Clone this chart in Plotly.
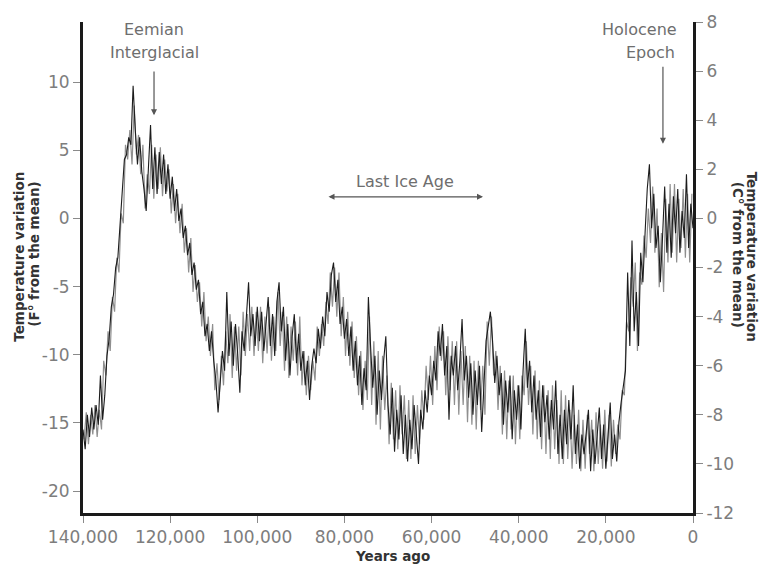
import plotly.graph_objects as go

# Years ago (thousands) and temperature variation (°C from the mean) - dark core of the record
AGES_KYR = [
    140.0, 139.5, 139.0, 138.5, 138.0, 137.5, 137.0, 136.5, 136.0, 135.5,
    135.0, 134.5, 134.0, 133.5, 133.0, 132.5, 132.0, 131.5, 131.0, 130.5,
    130.0, 129.5, 129.0, 128.5, 128.0, 127.5, 127.0, 126.5, 126.0, 125.5,
    125.0, 124.5, 124.0, 123.5, 123.0, 122.5, 122.0, 121.5, 121.0, 120.5,
    120.0, 119.5, 119.0, 118.5, 118.0, 117.5, 117.0, 116.5, 116.0, 115.5,
    115.0, 114.5, 114.0, 113.5, 113.0, 112.5, 112.0, 111.5, 111.0, 110.5,
    110.0, 109.5, 109.0, 108.5, 108.0, 107.5, 107.0, 106.5, 106.0, 105.5,
    105.0, 104.5, 104.0, 103.5, 103.0, 102.5, 102.0, 101.5, 101.0, 100.5,
    100.0, 99.5, 99.0, 98.5, 98.0, 97.5, 97.0, 96.5, 96.0, 95.5,
    95.0, 94.5, 94.0, 93.5, 93.0, 92.5, 92.0, 91.5, 91.0, 90.5,
    90.0, 89.5, 89.0, 88.5, 88.0, 87.5, 87.0, 86.5, 86.0, 85.5,
    85.0, 84.5, 84.0, 83.5, 83.0, 82.5, 82.0, 81.5, 81.0, 80.5,
    80.0, 79.5, 79.0, 78.5, 78.0, 77.5, 77.0, 76.5, 76.0, 75.5,
    75.0, 74.5, 74.0, 73.5, 73.0, 72.5, 72.0, 71.5, 71.0, 70.5,
    70.0, 69.5, 69.0, 68.5, 68.0, 67.5, 67.0, 66.5, 66.0, 65.5,
    65.0, 64.5, 64.0, 63.5, 63.0, 62.5, 62.0, 61.5, 61.0, 60.5,
    60.0, 59.5, 59.0, 58.5, 58.0, 57.5, 57.0, 56.5, 56.0, 55.5,
    55.0, 54.5, 54.0, 53.5, 53.0, 52.5, 52.0, 51.5, 51.0, 50.5,
    50.0, 49.5, 49.0, 48.5, 48.0, 47.5, 47.0, 46.5, 46.0, 45.5,
    45.0, 44.5, 44.0, 43.5, 43.0, 42.5, 42.0, 41.5, 41.0, 40.5,
    40.0, 39.5, 39.0, 38.5, 38.0, 37.5, 37.0, 36.5, 36.0, 35.5,
    35.0, 34.5, 34.0, 33.5, 33.0, 32.5, 32.0, 31.5, 31.0, 30.5,
    30.0, 29.5, 29.0, 28.5, 28.0, 27.5, 27.0, 26.5, 26.0, 25.5,
    25.0, 24.5, 24.0, 23.5, 23.0, 22.5, 22.0, 21.5, 21.0, 20.5,
    20.0, 19.5, 19.0, 18.5, 18.0, 17.5, 17.0, 16.5, 16.0, 15.5,
    15.0, 14.5, 14.0, 13.5, 13.0, 12.5, 12.0, 11.5, 11.0, 10.5,
    10.0, 9.5, 9.0, 8.5, 8.0, 7.5, 7.0, 6.5, 6.0, 5.5,
    5.0, 4.5, 4.0, 3.5, 3.0, 2.5, 2.0, 1.5, 1.0, 0.5,
    0.0,
]

TEMP_C = [
    -8.6, -9.4, -8.0, -8.9, -7.7, -8.6, -7.6, -8.4, -6.4, -8.2,
    -7.2, -5.6, -4.9, -3.6, -3.1, -2.0, -1.6, -0.3, 0.8, 2.4,
    2.6, 3.3, 3.0, 5.4, 3.6, 2.2, 3.3, 1.9, 1.2, 0.3,
    2.0, 3.8, 1.2, 2.9, 1.0, 2.7, 1.4, 2.6, 1.0, 2.2,
    0.8, 1.7, 0.3, 1.2, -0.1, 0.4, -0.8, -0.3, -1.5, -1.0,
    -2.3, -1.8, -2.9, -2.5, -3.9, -3.4, -4.8, -4.3, -5.4, -4.6,
    -5.8, -6.6, -7.9, -6.5, -5.4, -6.2, -3.0, -5.6, -4.2, -6.0,
    -4.3, -5.5, -7.1, -4.6, -5.4, -4.0, -2.6, -4.8, -3.9, -5.2,
    -3.6, -5.0, -3.8, -5.4, -4.2, -3.2, -5.2, -3.9, -5.6, -3.4,
    -2.6, -4.6, -3.6, -5.8, -4.3, -6.4, -4.8, -3.9, -5.9, -4.7,
    -6.2, -5.4, -6.8, -5.8, -7.4, -6.0, -5.3, -5.9, -4.5, -5.3,
    -4.0, -4.8, -3.0, -3.8, -2.3, -1.8, -3.4, -2.5, -4.3, -3.6,
    -4.9, -4.1, -5.6, -4.4, -6.2, -5.0, -6.8, -5.6, -7.6, -6.1,
    -7.0, -3.2, -5.2, -6.9, -5.6, -8.0, -6.2, -7.4, -5.8, -4.8,
    -7.6, -8.8, -6.9, -9.5, -7.8, -9.0, -7.2, -9.6, -8.0, -9.9,
    -8.2, -9.4, -7.6, -8.9, -10.0, -7.8, -8.6, -7.0, -7.9, -6.4,
    -7.2, -5.8, -6.6, -4.6, -5.6, -4.3, -6.4, -5.2, -8.2, -5.6,
    -6.4, -5.2, -7.0, -5.8, -4.1, -6.6, -5.6, -7.3, -5.9, -8.0,
    -6.2, -7.6, -6.0, -8.7, -6.8, -5.0, -4.4, -3.8, -5.0, -6.7,
    -5.6, -7.2, -6.3, -8.4, -6.6, -7.9, -6.4, -9.0, -7.0, -8.2,
    -6.8, -8.6, -6.2, -4.5, -6.9, -5.8, -7.9, -6.4, -8.2, -7.0,
    -8.9, -6.8, -8.3, -7.2, -9.0, -7.4, -8.6, -6.6, -9.6, -8.0,
    -9.8, -7.8, -9.2, -7.4, -9.0, -6.8, -9.6, -8.4, -10.2, -8.8,
    -9.6, -8.6, -7.8, -10.3, -8.6, -10.0, -8.8, -7.7, -9.8, -8.4,
    -10.2, -8.6, -7.5, -9.8, -8.8, -9.9, -8.3, -7.5, -6.8, -6.2,
    -2.2, -5.2, -0.9, -4.6, -3.0, -5.2, -1.4, -2.6, -0.6, 1.2,
    2.2, -0.4, 1.0, -1.2, -0.3, -2.6, -0.8, 1.3, -1.4, 0.6,
    -1.6, 0.9, -0.6, 1.2, -1.4, 0.3, -0.8, 1.8, -1.2, 0.6,
    -0.4,
]

# Lighter grey strokes of the record, read between the dark-core samples
GREY_AGES_KYR = [
    139.75, 139.25, 138.75, 138.25, 137.75, 137.25, 136.75, 136.25, 135.75, 135.25,
    134.75, 134.25, 133.75, 133.25, 132.75, 132.25, 131.75, 131.25, 130.75, 130.25,
    129.75, 129.25, 128.75, 128.25, 127.75, 127.25, 126.75, 126.25, 125.75, 125.25,
    124.75, 124.25, 123.75, 123.25, 122.75, 122.25, 121.75, 121.25, 120.75, 120.25,
    119.75, 119.25, 118.75, 118.25, 117.75, 117.25, 116.75, 116.25, 115.75, 115.25,
    114.75, 114.25, 113.75, 113.25, 112.75, 112.25, 111.75, 111.25, 110.75, 110.25,
    109.75, 109.25, 108.75, 108.25, 107.75, 107.25, 106.75, 106.25, 105.75, 105.25,
    104.75, 104.25, 103.75, 103.25, 102.75, 102.25, 101.75, 101.25, 100.75, 100.25,
    99.75, 99.25, 98.75, 98.25, 97.75, 97.25, 96.75, 96.25, 95.75, 95.25,
    94.75, 94.25, 93.75, 93.25, 92.75, 92.25, 91.75, 91.25, 90.75, 90.25,
    89.75, 89.25, 88.75, 88.25, 87.75, 87.25, 86.75, 86.25, 85.75, 85.25,
    84.75, 84.25, 83.75, 83.25, 82.75, 82.25, 81.75, 81.25, 80.75, 80.25,
    79.75, 79.25, 78.75, 78.25, 77.75, 77.25, 76.75, 76.25, 75.75, 75.25,
    74.75, 74.25, 73.75, 73.25, 72.75, 72.25, 71.75, 71.25, 70.75, 70.25,
    69.75, 69.25, 68.75, 68.25, 67.75, 67.25, 66.75, 66.25, 65.75, 65.25,
    64.75, 64.25, 63.75, 63.25, 62.75, 62.25, 61.75, 61.25, 60.75, 60.25,
    59.75, 59.25, 58.75, 58.25, 57.75, 57.25, 56.75, 56.25, 55.75, 55.25,
    54.75, 54.25, 53.75, 53.25, 52.75, 52.25, 51.75, 51.25, 50.75, 50.25,
    49.75, 49.25, 48.75, 48.25, 47.75, 47.25, 46.75, 46.25, 45.75, 45.25,
    44.75, 44.25, 43.75, 43.25, 42.75, 42.25, 41.75, 41.25, 40.75, 40.25,
    39.75, 39.25, 38.75, 38.25, 37.75, 37.25, 36.75, 36.25, 35.75, 35.25,
    34.75, 34.25, 33.75, 33.25, 32.75, 32.25, 31.75, 31.25, 30.75, 30.25,
    29.75, 29.25, 28.75, 28.25, 27.75, 27.25, 26.75, 26.25, 25.75, 25.25,
    24.75, 24.25, 23.75, 23.25, 22.75, 22.25, 21.75, 21.25, 20.75, 20.25,
    19.75, 19.25, 18.75, 18.25, 17.75, 17.25, 16.75, 16.25, 15.75, 15.25,
    14.75, 14.25, 13.75, 13.25, 12.75, 12.25, 11.75, 11.25, 10.75, 10.25,
    9.75, 9.25, 8.75, 8.25, 7.75, 7.25, 6.75, 6.25, 5.75, 5.25,
    4.75, 4.25, 3.75, 3.25, 2.75, 2.25, 1.75, 1.25, 0.75, 0.25,
]

GREY_TEMP_C = [
    -9.0, -7.9, -9.2, -8.0, -8.8, -7.6, -8.9, -7.8, -8.6, -5.8,
    -6.4, -4.6, -5.4, -3.2, -3.8, -1.6, -2.2, 0.2, -0.2, 3.0,
    2.4, 3.6, 2.2, 4.6, 2.6, 3.4, 1.8, 3.0, 0.4, 1.8,
    1.0, 3.0, 0.8, 2.6, 1.2, 2.9, 0.9, 2.4, 1.1, 2.0,
    0.2, 1.4, -0.2, 1.0, -0.6, 0.6, -1.4, -0.4, -2.2, -0.8,
    -3.0, -1.9, -3.4, -2.6, -4.4, -3.0, -5.0, -4.0, -5.6, -4.3,
    -7.0, -5.9, -7.4, -5.6, -6.8, -4.6, -5.9, -3.9, -6.5, -4.4,
    -6.2, -4.4, -6.4, -3.8, -5.6, -3.9, -5.4, -3.6, -5.6, -3.8,
    -5.4, -3.6, -5.9, -4.0, -5.5, -3.6, -5.8, -4.0, -5.4, -3.0,
    -5.2, -3.8, -6.2, -4.0, -6.5, -4.4, -5.8, -4.2, -6.4, -4.0,
    -6.8, -5.4, -7.2, -5.6, -7.0, -5.8, -6.6, -4.4, -5.6, -4.3,
    -5.2, -3.4, -4.3, -2.2, -3.6, -2.0, -4.0, -2.2, -4.8, -3.2,
    -5.6, -3.8, -6.0, -4.2, -6.5, -4.8, -7.2, -5.4, -7.8, -5.8,
    -7.4, -4.0, -7.6, -5.0, -8.4, -5.4, -8.6, -5.6, -7.8, -6.4,
    -9.2, -6.7, -9.0, -7.0, -9.4, -6.8, -8.8, -7.2, -9.8, -7.4,
    -9.8, -7.2, -9.6, -7.6, -9.2, -7.0, -8.2, -6.0, -7.4, -5.6,
    -7.6, -5.2, -7.0, -4.4, -5.8, -4.6, -7.2, -4.8, -7.0, -5.0,
    -7.6, -5.0, -8.0, -5.4, -7.6, -5.2, -8.3, -5.6, -8.4, -5.8,
    -8.6, -5.8, -7.8, -6.0, -8.0, -4.2, -6.0, -4.0, -6.4, -5.4,
    -7.8, -6.0, -8.8, -6.2, -9.0, -6.6, -8.6, -6.4, -9.2, -6.8,
    -9.0, -6.4, -7.2, -5.0, -7.6, -6.0, -8.8, -6.2, -9.0, -6.6,
    -9.4, -6.8, -9.6, -7.0, -9.8, -6.8, -9.4, -7.4, -10.0, -7.0,
    -10.0, -7.2, -9.8, -7.8, -10.2, -8.0, -10.0, -7.8, -10.3, -8.2,
    -10.2, -8.0, -9.6, -8.2, -10.3, -7.9, -10.0, -8.4, -10.2, -7.8,
    -9.9, -8.0, -10.1, -8.2, -9.6, -8.4, -9.0, -7.0, -7.2, -4.2,
    -4.6, -2.4, -3.6, -1.8, -5.4, -2.2, -2.7, -0.7, -1.6, 0.4,
    -1.0, 1.3, -1.4, 0.4, -2.8, -0.6, -3.0, 0.8, -1.8, 1.4,
    -1.4, 1.4, -1.8, 0.8, -1.2, 1.2, -1.6, 1.0, -1.8, 1.0,
]

X_TICKS = [140000, 120000, 100000, 80000, 60000, 40000, 20000, 0]
X_TICKTEXT = ["140,000", "120,000", "100,000", "80,000", "60,000", "40,000", "20,000", "0"]
F_TICKS = [-20, -15, -10, -5, 0, 5, 10]
F_TICKTEXT = ["-20", "-15", "-10", "-5", "0", "5", "10"]
C_TICKS = [-12, -10, -8, -6, -4, -2, 0, 2, 4, 6, 8]
C_TICKTEXT = ["-12", "-10", "-8", "-6", "-4", "-2", "0", "2", "4", "6", "8"]

years = [a * 1000 for a in AGES_KYR]
grey_years = [a * 1000 for a in GREY_AGES_KYR]

FONT = "DejaVu Sans"
TICK_COLOR = "#7d7d7d"
TITLE_COLOR = "#333333"
ANN_COLOR = "#6e6e6e"

# plot area in pixels (for placing paper-referenced titles)
L, R, T, B = 83, 693, 13, 513
def px(x):
    return (x - L) / (R - L)
def py(y):
    return (B - y) / (B - T)

fig = go.Figure()
fig.add_trace(go.Scatter(x=[years[0]], y=[0], mode="markers", marker=dict(opacity=0),
                         hoverinfo="skip", showlegend=False, yaxis="y"))
fig.add_trace(go.Scatter(x=grey_years, y=GREY_TEMP_C, mode="lines", yaxis="y2",
                         line=dict(color="#8f8f8f", width=1.2), showlegend=False))
fig.add_trace(go.Scatter(x=years, y=TEMP_C, mode="lines", yaxis="y2",
                         line=dict(color="#1c1c1c", width=1.1), showlegend=False))

axis_common = dict(showgrid=False, zeroline=False, showline=True, linecolor="#1a1a1a",
                   linewidth=3, ticks="outside", ticklen=7, tickwidth=1, tickcolor="#8a8a8a",
                   tickfont=dict(family=FONT, size=17, color=TICK_COLOR))

fig.update_layout(
    width=765, height=569,
    margin=dict(l=L, r=765 - R, t=T, b=569 - B),
    paper_bgcolor="white", plot_bgcolor="white",
    font=dict(family=FONT),
    xaxis=dict(range=[140000, 0], tickvals=X_TICKS, ticktext=X_TICKTEXT, **axis_common),
    yaxis=dict(range=[-21.6, 14.4], tickvals=F_TICKS, ticktext=F_TICKTEXT, **axis_common),
    yaxis2=dict(range=[-12, 8], tickvals=C_TICKS, ticktext=C_TICKTEXT, overlaying="y",
                side="right", **axis_common),
)

annotations = []
def txt(x, y, s, size=16, color=ANN_COLOR, xref="x", yref="y2", angle=0, bold=False):
    annotations.append(dict(x=x, y=y, xref=xref, yref=yref, text=(f"<b>{s}</b>" if bold else s),
                            showarrow=False, textangle=angle, xanchor="center", yanchor="middle",
                            font=dict(family=FONT, size=size, color=color)))

def arrow(x, y, ax, ay, both=False):
    annotations.append(dict(x=x, y=y, ax=ax, ay=ay, xref="x", yref="y2", axref="x", ayref="y2",
                            text="", showarrow=True, arrowhead=2, arrowsize=1, arrowwidth=1.2,
                            arrowcolor="#555555", arrowside="end+start" if both else "end",
                            startarrowhead=2, startarrowsize=1))

txt(123700, 7.68, "Eemian")
txt(123700, 6.76, "Interglacial")
arrow(123700, 4.2, 123700, 6.04)
txt(12170, 7.68, "Holocene")
txt(9870, 6.76, "Epoch")
arrow(6900, 3.04, 6900, 6.24)
txt(66100, 1.52, "Last Ice Age")
arrow(48200, 0.88, 84000, 0.88, both=True)

# axis titles (paper coordinates derived from pixel positions)
txt(px(19), py(252), "Temperature variation", size=13.5, color=TITLE_COLOR, xref="paper", yref="paper", angle=-90, bold=True)
txt(px(34), py(250), "(F° from the mean)", size=13.5, color=TITLE_COLOR, xref="paper", yref="paper", angle=-90, bold=True)
txt(px(752), py(252), "Temperature variation", size=13.5, color=TITLE_COLOR, xref="paper", yref="paper", angle=90, bold=True)
txt(px(738), py(250), "(C° from the mean)", size=13.5, color=TITLE_COLOR, xref="paper", yref="paper", angle=90, bold=True)
txt(px(392), py(557), "Years ago", size=13.5, color=TITLE_COLOR, xref="paper", yref="paper", bold=True)

fig.update_layout(annotations=annotations)
fig.write_html("out.html")
